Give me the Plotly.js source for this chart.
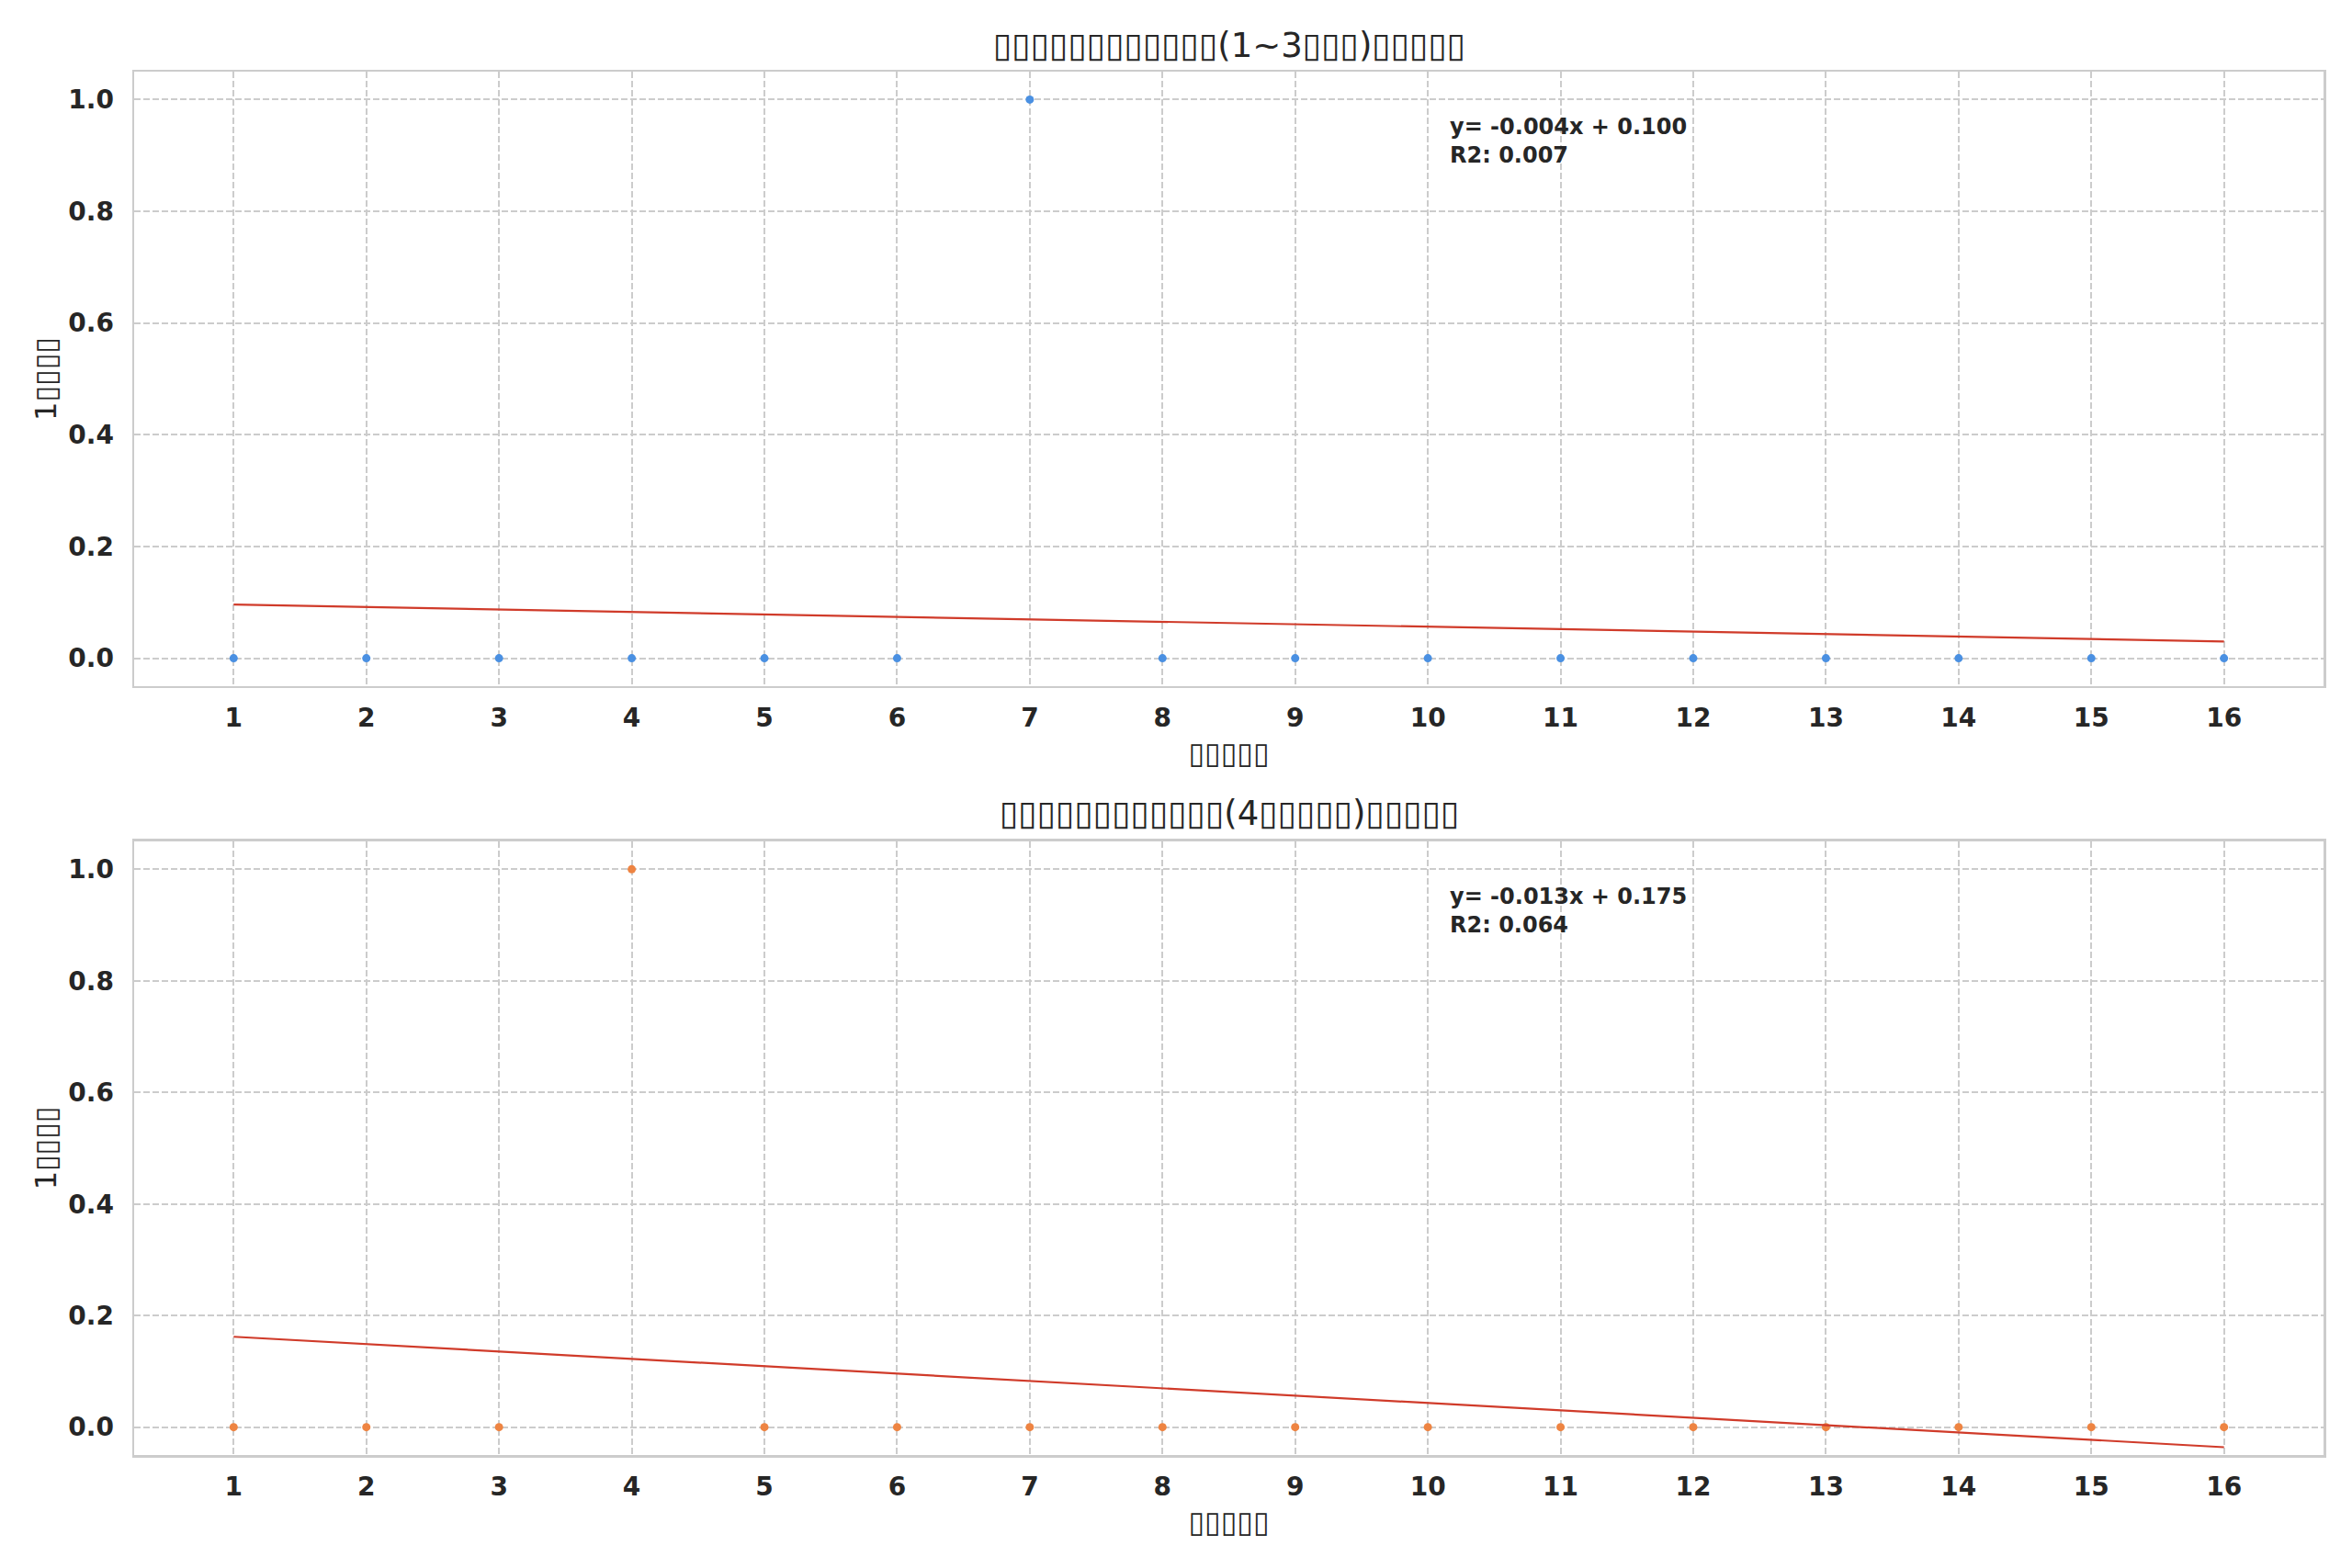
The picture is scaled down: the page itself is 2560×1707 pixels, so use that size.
<!DOCTYPE html>
<html>
<head>
<meta charset="utf-8">
<script src="https://cdn.plot.ly/plotly-3.0.1.min.js"></script>
<style>html,body{margin:0;padding:0;background:#fff;}</style>
</head>
<body>
<div id="chart" style="width:2560px;height:1707px;"></div>
<script>
// ---- data ----
const xVals = [1,2,3,4,5,6,7,8,9,10,11,12,13,14,15,16];
const xTickLabels = ["1","2","3","4","5","6","7","8","9","10","11","12","13","14","15","16"];
const topValues = [0,0,0,0,0,0,1,0,0,0,0,0,0,0,0,0];
const bottomValues = [0,0,0,1,0,0,0,0,0,0,0,0,0,0,0,0];
const fitX = [1, 16];
const topFitY = [0.096, 0.030];
const bottomFitY = [0.162, -0.036];
const yTickVals = [0.0,0.2,0.4,0.6,0.8,1.0];
const yTickLabels = ["0.0","0.2","0.4","0.6","0.8","1.0"];
const topTitle = "▯▯▯▯▯▯▯▯▯▯▯▯(1~3▯▯▯)▯▯▯▯▯";
const bottomTitle = "▯▯▯▯▯▯▯▯▯▯▯▯(4▯▯▯▯▯)▯▯▯▯▯";
const xLabel = "▯▯▯▯▯";
const yLabel = "1▯▯▯▯";
const topEq = ["y= -0.004x + 0.100", "R2: 0.007"];
const bottomEq = ["y= -0.013x + 0.175", "R2: 0.064"];

const FONT = "DejaVu Sans, Liberation Sans, sans-serif";
const TXT = "#262626";
const GRID = "#cccccc";
const FIT = "#d03b2a";

const traces = [
  {x: xVals, y: topValues, xaxis: "x", yaxis: "y", type: "scatter", mode: "markers",
   marker: {color: "#4a90e2", size: 9}, showlegend: false},
  {x: fitX, y: topFitY, xaxis: "x", yaxis: "y", type: "scatter", mode: "lines",
   line: {color: FIT, width: 2.2}, showlegend: false},
  {x: xVals, y: bottomValues, xaxis: "x2", yaxis: "y2", type: "scatter", mode: "markers",
   marker: {color: "#ee8442", size: 9}, showlegend: false},
  {x: fitX, y: bottomFitY, xaxis: "x2", yaxis: "y2", type: "scatter", mode: "lines",
   line: {color: FIT, width: 2.2}, showlegend: false}
];

function xAxis(anchor) {
  return {
    anchor: anchor, domain: [0, 1], range: [0.25, 16.75],
    tickmode: "array", tickvals: xVals, ticktext: xTickLabels,
    tickfont: {family: FONT, size: 28, color: TXT, weight: "bold"},
    showline: true, linecolor: GRID, linewidth: 2.5, mirror: true,
    showgrid: true, gridcolor: GRID, gridwidth: 2, griddash: "7px,3px",
    zeroline: false, ticks: "", ticklabelstandoff: 8,
    title: {text: xLabel, font: {family: FONT, size: 32, color: TXT}, standoff: 12}
  };
}
function yAxis(anchor, domain) {
  return {
    anchor: anchor, domain: domain, range: [-0.05, 1.05],
    tickmode: "array", tickvals: yTickVals, ticktext: yTickLabels,
    tickfont: {family: FONT, size: 28, color: TXT, weight: "bold"},
    showline: true, linecolor: GRID, linewidth: 2.5, mirror: true,
    showgrid: true, gridcolor: GRID, gridwidth: 2, griddash: "7px,3px",
    zeroline: false, ticks: "", ticklabelstandoff: 14,
    title: {text: yLabel, font: {family: FONT, size: 32, color: TXT}, standoff: 3}
  };
}

const layout = {
  width: 2560, height: 1707,
  paper_bgcolor: "#ffffff", plot_bgcolor: "#ffffff",
  margin: {l: 146, r: 31, t: 78, b: 123},
  showlegend: false,
  xaxis: xAxis("y"),
  yaxis: yAxis("x", [0.5558, 1]),
  xaxis2: xAxis("y2"),
  yaxis2: yAxis("x2", [0, 0.4436]),
  font: {family: FONT, color: TXT},
  annotations: [
    {text: topTitle, xref: "paper", yref: "paper", x: 0.5, y: 1, yshift: 5, xanchor: "center", yanchor: "bottom",
     showarrow: false, font: {family: FONT, size: 37, color: TXT}},
    {text: bottomTitle, xref: "paper", yref: "paper", x: 0.5, y: 0.4436, yshift: 7, xanchor: "center", yanchor: "bottom",
     showarrow: false, font: {family: FONT, size: 37, color: TXT}},
    {text: "<b>" + topEq.join("<br>") + "</b>", xref: "x domain", yref: "y domain", x: 0.6, y: 0.95, yshift: -11,
     xanchor: "left", yanchor: "top", align: "left", showarrow: false, font: {family: FONT, size: 24, color: TXT}},
    {text: "<b>" + bottomEq.join("<br>") + "</b>", xref: "x2 domain", yref: "y2 domain", x: 0.6, y: 0.95, yshift: -11,
     xanchor: "left", yanchor: "top", align: "left", showarrow: false, font: {family: FONT, size: 24, color: TXT}}
  ]
};

Plotly.newPlot("chart", traces, layout, {displayModeBar: false, staticPlot: true});
</script>
</body>
</html>
